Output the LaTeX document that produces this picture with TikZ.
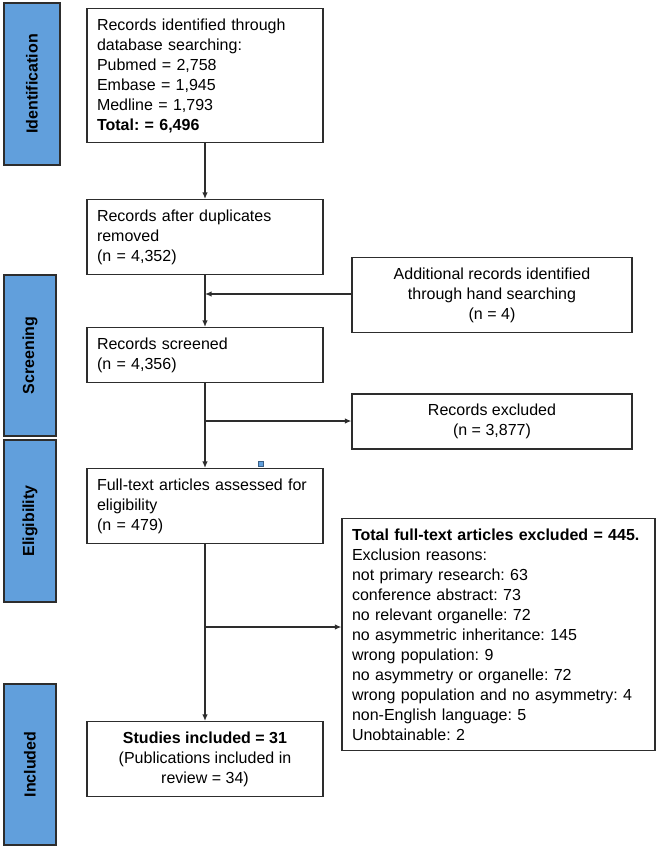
\documentclass[tikz,border=0pt]{standalone}
\usepackage{fontspec}
\setmainfont{Liberation Sans}
\usetikzlibrary{arrows.meta}
\definecolor{stageblue}{RGB}{97,159,220}
\definecolor{lineg}{RGB}{45,45,45}
\frenchspacing

\begin{document}
\begin{tikzpicture}
  [x=1pt,y=-1pt,
   stage/.style={draw=lineg,line width=1.5pt,fill=stageblue,rotate=90,
     minimum height=52pt,inner sep=0pt,font=\fontsize{16}{20}\selectfont\bfseries},
   box/.style={draw=lineg,line width=1.2pt,inner sep=10pt,
     font=\fontsize{16}{20}\selectfont},
   lbox/.style={box,text width=216pt,align=left},
   cbox/.style={box,minimum width=280pt,align=center},
   arr/.style={draw=lineg,line width=1.2pt,-{Latex[length=6.5pt,width=5.5pt]}}]
  \useasboundingbox (0,0) rectangle (660,850);

  % stages
  \node[stage,minimum width=162pt,minimum height=56pt] (ident) at (32,84) {Identification};
  \node[stage,minimum width=161pt] (scrn) at (30,355.5) {Screening};
  \node[stage,minimum width=162pt] (elig) at (30,521) {Eligibility};
  \node[stage,minimum width=161pt] (incl) at (30,764.5) {Included};

  % main column
  \node[lbox,minimum height=131pt] (rec) at (205,75.5)
    {Records identified through\\database searching:\\Pubmed = 2,758\\Embase = 1,945\\Medline = 1,793\\\textbf{Total: = 6,496}};
  \node[lbox,minimum height=70pt] (dup) at (205,237) {Records after duplicates\\removed\\(n = 4,352)};
  \node[lbox,minimum height=50pt] (scr) at (205,355) {Records screened\\(n = 4,356)};
  \node[lbox,minimum height=70pt] (full) at (205,506) {Full-text articles assessed for\\eligibility\\(n = 479)};
  \node[box,minimum width=236pt,minimum height=72pt,align=center] (stud) at (205,759)
    {\textbf{Studies included = 31}\\(Publications included in\\review = 34)};

  % side boxes
  \node[cbox,minimum height=70pt] (add) at (492,295) {Additional records identified\\through hand searching\\(n = 4)};
  \node[cbox,minimum height=51pt] (excl) at (492,421.5) {Records excluded\\(n = 3,877)};
  \node[box,text width=293pt,align=left,minimum height=229pt] (ftex) at (498.5,634.5)
    {\textbf{Total full-text articles excluded = 445.}\\Exclusion reasons:\\not primary research: 63\\conference abstract: 73\\no relevant organelle: 72\\no asymmetric inheritance: 145\\wrong population: 9\\no asymmetry or organelle: 72\\wrong population and no asymmetry: 4\\non-English language: 5\\Unobtainable: 2};

  \coordinate (j1) at (205,294);
  \coordinate (j2) at (205,421);
  \coordinate (j3) at (205,627);

  \draw[arr] (rec) -- (dup);
  \draw[arr] (dup) -- (scr);
  \draw[arr] (add.west |- j1) -- (j1);
  \draw[arr] (scr) -- (full);
  \draw[arr] (j2) -- (j2 -| excl.west);
  \draw[arr] (full) -- (stud);
  \draw[arr] (j3) -- (j3 -| ftex.west);

  \draw[draw=stageblue!60!black,fill=stageblue,line width=0.6pt] (258.5,461.5) rectangle (263.5,466.5);
\end{tikzpicture}
\end{document}
